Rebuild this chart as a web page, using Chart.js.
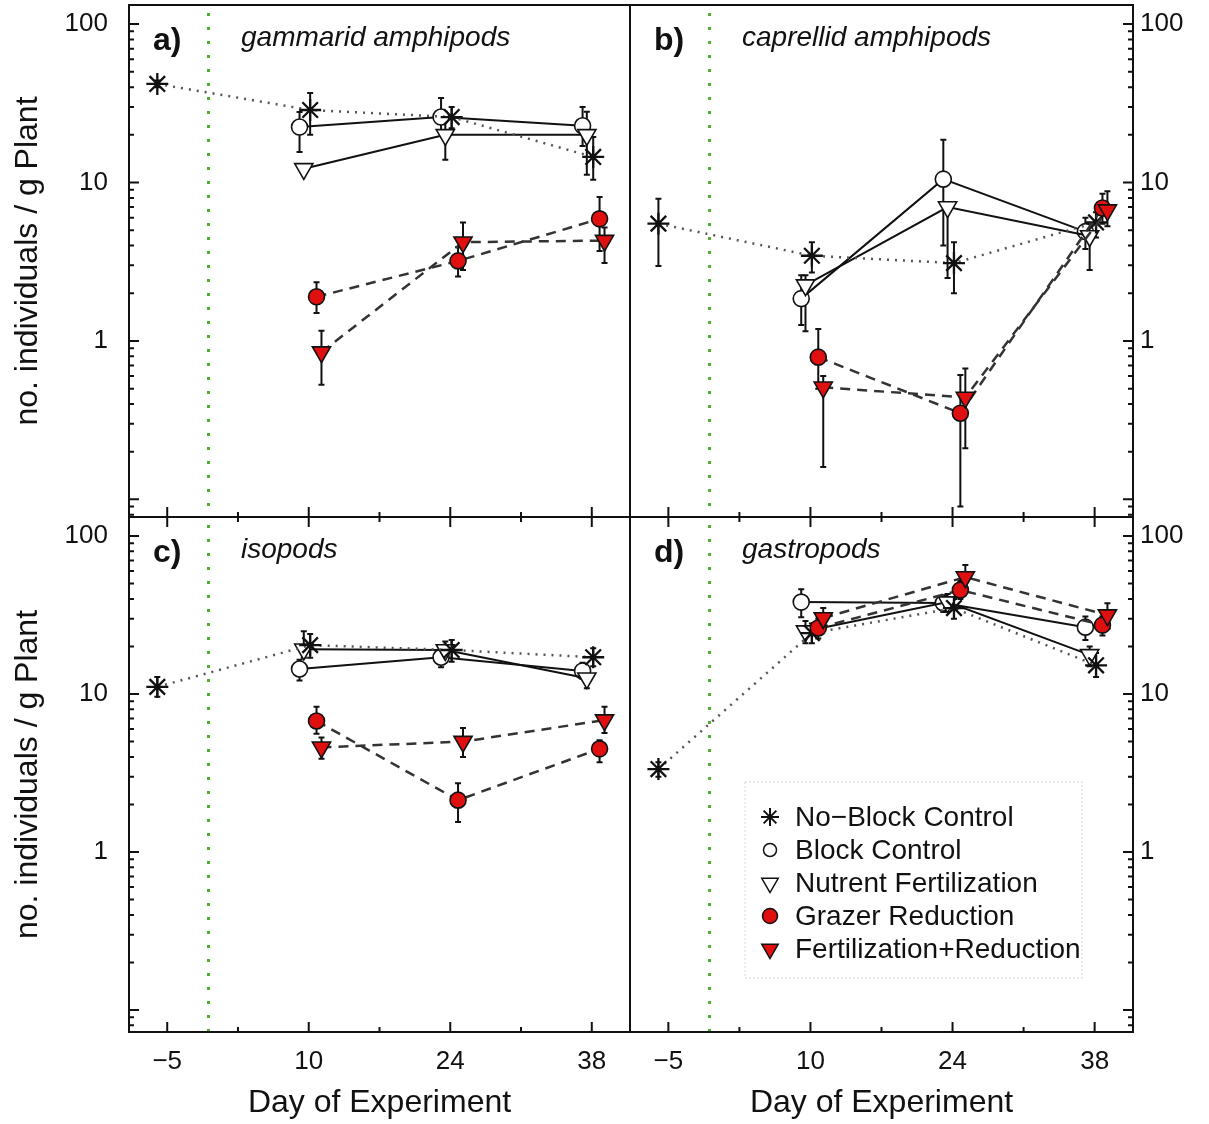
<!DOCTYPE html>
<html>
<head>
<meta charset="utf-8">
<script src="https://cdn.jsdelivr.net/npm/chart.js@4.4.1/dist/chart.umd.min.js"></script>
<style>
  html, body { margin: 0; padding: 0; background: #fff; }
  #wrap { position: relative; width: 1209px; height: 1124px; overflow: hidden; }
  #wrap canvas { position: absolute; }
</style>
</head>
<body>
<div id="wrap">
  <canvas id="panelA" width="632" height="518" style="left:0px;top:0px"></canvas>
  <canvas id="panelB" width="581" height="518" style="left:628px;top:0px"></canvas>
  <canvas id="panelC" width="632" height="609" style="left:0px;top:515px"></canvas>
  <canvas id="panelD" width="581" height="609" style="left:628px;top:515px"></canvas>
</div>
<script>
// x slots: sampling days
const dayLabels = ['\u22125', '10', '24', '38'];
const seriesNames = ['No\u2212Block Control', 'Block Control', 'Nutrent Fertilization', 'Grazer Reduction', 'Fertilization+Reduction'];
// small sideways dodge so symbols don't sit on each other (in day-slot units)
const seriesShift = [0.01, -0.065, -0.035, 0.055, 0.09];
const preSampleShift = -0.07;   // the day -5 sample sits a bit left of its tick
// start of experiment (green dotted line), in day-slot units
const startLine = 0.285;

// rows follow seriesNames, columns follow dayLabels; null = not sampled
// a) gammarid amphipods
const gammaridMean = [
    [41.9, 28.7, 25.9, 14.5],
    [null, 22.4, 25.9, 22.8],
    [null, 12.2, 20.0, 20.0],
    [null, 1.9, 3.2, 5.9],
    [null, 0.85, 4.2, 4.3]
];
const gammaridLow = [
    [40, 20, 22, 10.4],
    [null, 15.6, 21, 17],
    [null, 11.5, 13.9, 11.2],
    [null, 1.5, 2.55, 3.7],
    [null, 0.53, 2.8, 3.1]
];
const gammaridHigh = [
    [44, 36.8, 30, 19.4],
    [null, 27.9, 34.2, 30],
    [null, 13, 25.9, 28],
    [null, 2.35, 3.9, 8.1],
    [null, 1.16, 5.6, 5.2]
];

// b) caprellid amphipods
const caprellidMean = [
    [5.5, 3.45, 3.1, 5.6],
    [null, 1.85, 10.5, 4.9],
    [null, 2.25, 7.0, 4.6],
    [null, 0.79, 0.35, 6.9],
    [null, 0.51, 0.44, 6.7]
];
const caprellidLow = [
    [2.97, 2.7, 2.0, 4.5],
    [null, 1.26, 4.0, 3.8],
    [null, 1.15, 2.5, 2.8],
    [null, 0.5, 0.09, 5.5],
    [null, 0.16, 0.21, 5.3]
];
const caprellidHigh = [
    [7.9, 4.2, 4.2, 6.5],
    [null, 2.6, 18.6, 6.0],
    [null, 2.6, 7.3, 5.5],
    [null, 1.19, 0.61, 8.5],
    [null, 0.6, 0.67, 8.8]
];

// c) isopods
const isopodMean = [
    [11.1, 20.4, 19.0, 17.1],
    [null, 14.4, 17.1, 14.0],
    [null, 19.2, 19.0, 12.6],
    [null, 6.75, 2.13, 4.5],
    [null, 4.6, 5.0, 6.84]
];
const isopodLow = [
    [9.6, 17, 16, 15],
    [null, 12.2, 14.8, 12.5],
    [null, 17, 16.5, 10.9],
    [null, 5.6, 1.55, 3.7],
    [null, 3.9, 4.0, 5.66]
];
const isopodHigh = [
    [12.8, 24, 22, 19.5],
    [null, 16.5, 20, 15.8],
    [null, 25, 21.5, 14.5],
    [null, 8.3, 2.73, 5.1],
    [null, 5.3, 6.1, 8.3]
];

// d) gastropods
const gastropodMean = [
    [3.35, 24.3, 35, 15.2],
    [null, 38.2, 37.7, 26.5],
    [null, 25.0, 38.2, 17.7],
    [null, 26.2, 45.5, 27.3],
    [null, 30.3, 55, 31.6]
];
const gastropodLow = [
    [3.0, 21, 30, 12.8],
    [null, 30.6, 33, 22],
    [null, 21, 33, 15],
    [null, 22.5, 40, 23.5],
    [null, 26, 47, 26]
];
const gastropodHigh = [
    [3.7, 28, 40, 18.2],
    [null, 46, 42, 31],
    [null, 29, 43, 20],
    [null, 30, 52, 31],
    [null, 35, 65.5, 37.6]
];

const RED = '#e01010';
const seriesStyle = [
    { pointStyle: 'star', radius: 11, fill: '#000', line: '#555', width: 2.5, dash: [2, 6], rot: 0, order: 3 },
    { pointStyle: 'circle', radius: 8, fill: '#fff', line: '#111', width: 2, dash: [], rot: 0, order: 5 },
    { pointStyle: 'triangle', radius: 10.5, fill: '#fff', line: '#111', width: 2, dash: [], rot: 180, order: 4 },
    { pointStyle: 'circle', radius: 8, fill: RED, line: '#333', width: 2.5, dash: [10, 7], rot: 0, order: 2 },
    { pointStyle: 'triangle', radius: 10.5, fill: RED, line: '#333', width: 2.5, dash: [10, 7], rot: 180, order: 1 }
];

const FONT = "'Liberation Sans', Arial, Helvetica, sans-serif";
Chart.defaults.font.family = FONT;
Chart.defaults.color = '#111';

// kill the automatic label overhang padding so the plot boxes line up exactly
function noPad(s) {
    s.paddingTop = 0; s.paddingBottom = 0; s.paddingLeft = 0; s.paddingRight = 0;
}

// frame, inward ticks, start line, error bars, panel labels, legend
const panelDecor = {
    id: 'panelDecor',
    beforeDatasetsDraw(chart, args, opts) {
        const { ctx, chartArea: a, scales: { x, y } } = chart;
        ctx.save();
        ctx.strokeStyle = '#4fae2c';
        ctx.lineWidth = 3;
        ctx.setLineDash([3, 11]);
        const gx = Math.round(x.getPixelForValue(startLine)) + 0.5;
        ctx.beginPath();
        ctx.moveTo(gx, a.top + 8);
        ctx.lineTo(gx, a.bottom);
        ctx.stroke();
        ctx.restore();

        ctx.save();
        ctx.strokeStyle = '#111';
        ctx.lineWidth = 2;
        chart.data.datasets.forEach(ds => {
            ds.data.forEach(p => {
                if (p.lo == null || p.hi == null) return;
                const px = x.getPixelForValue(p.x);
                const y1 = y.getPixelForValue(p.lo);
                const y2 = y.getPixelForValue(p.hi);
                ctx.beginPath();
                ctx.moveTo(px, y1); ctx.lineTo(px, y2);
                ctx.moveTo(px - 3, y1); ctx.lineTo(px + 3, y1);
                ctx.moveTo(px - 3, y2); ctx.lineTo(px + 3, y2);
                ctx.stroke();
            });
        });
        ctx.restore();
    },
    afterDraw(chart, args, opts) {
        const { ctx, chartArea: a, scales: { x, y } } = chart;
        ctx.save();
        ctx.strokeStyle = '#111';
        ctx.lineWidth = 2;
        ctx.strokeRect(a.left, a.top, a.right - a.left, a.bottom - a.top);

        // y ticks on the outer side
        const yx = opts.side === 'left' ? a.left : a.right;
        const dir = opts.side === 'left' ? 1 : -1;
        ctx.beginPath();
        for (let k = -2; k <= 2; k++) {
            for (let m = 1; m <= 9; m++) {
                const v = m * Math.pow(10, k);
                if (v < y.min || v > y.max) continue;
                const py = y.getPixelForValue(v);
                const len = m === 1 ? 10 : 5;
                ctx.moveTo(yx, py);
                ctx.lineTo(yx + dir * len, py);
            }
        }
        // x ticks: bottom always, top for lower panels
        for (let i = -0.5; i <= 3.5; i += 0.5) {
            if (i < x.min || i > x.max) continue;
            const px = x.getPixelForValue(i);
            const len = Number.isInteger(i) ? 10 : 5;
            ctx.moveTo(px, a.bottom);
            ctx.lineTo(px, a.bottom - len);
            if (opts.topTicks) {
                ctx.moveTo(px, a.top);
                ctx.lineTo(px, a.top + len);
            }
        }
        ctx.stroke();

        // panel letter + taxon
        ctx.fillStyle = '#111';
        ctx.textBaseline = 'alphabetic';
        ctx.font = "bold 32px " + FONT;
        ctx.fillText(opts.letter, a.left + 24, a.top + 45);
        ctx.font = "italic 28px " + FONT;
        ctx.fillText(opts.taxon, a.left + 112, a.top + 41);

        if (opts.legend) {
            const bx = a.left + 115, by = a.top + 265;
            ctx.strokeStyle = '#d6d6d6';
            ctx.lineWidth = 1;
            ctx.setLineDash([2, 2]);
            ctx.strokeRect(bx, by, 337, 196);
            ctx.setLineDash([]);
            const legendSize = [9, 6.5, 9.5, 7.5, 9.5];
            seriesNames.forEach((name, k) => {
                const st = seriesStyle[k];
                const cy = by + 35 + k * 33;
                ctx.fillStyle = st.fill;
                ctx.strokeStyle = '#111';
                ctx.lineWidth = k === 0 ? 2 : 1.5;
                Chart.helpers.drawPoint(ctx, {
                    pointStyle: st.pointStyle, rotation: st.rot,
                    radius: legendSize[k], borderWidth: ctx.lineWidth
                }, bx + 25, cy);
                ctx.fillStyle = '#111';
                ctx.font = "28px " + FONT;
                ctx.textBaseline = 'middle';
                ctx.fillText(name, bx + 50, cy + 1);
            });
        }
        ctx.restore();
    }
};

function buildDatasets(mean, low, high) {
    return seriesNames.map((name, s) => {
        const st = seriesStyle[s];
        const pts = [];
        dayLabels.forEach((d, i) => {
            if (mean[s][i] == null) return;
            const shift = i === 0 ? preSampleShift : seriesShift[s];
            pts.push({ x: i + shift, y: mean[s][i], lo: low[s][i], hi: high[s][i] });
        });
        return {
            label: name,
            data: pts,
            order: st.order,
            borderColor: st.line,
            borderWidth: st.width,
            borderDash: st.dash,
            tension: 0,
            fill: false,
            pointStyle: st.pointStyle,
            pointRadius: st.radius,
            pointHoverRadius: st.radius,
            pointRotation: st.rot,
            pointBackgroundColor: st.fill,
            pointBorderColor: '#111',
            pointBorderWidth: s === 0 ? 2.3 : 1.6,
            clip: false
        };
    });
}

function makePanel(id, mean, low, high, cfg) {
    const left = cfg.side === 'left';
    new Chart(document.getElementById(id), {
        type: 'line',
        data: { datasets: buildDatasets(mean, low, high) },
        options: {
            responsive: false,
            animation: false,
            devicePixelRatio: 1,
            layout: { padding: cfg.padding, autoPadding: false },
            plugins: {
                legend: { display: false },
                tooltip: { enabled: false },
                panelDecor: cfg
            },
            scales: {
                x: {
                    type: 'linear',
                    min: -0.27,
                    max: 3.27,
                    display: cfg.showX,
                    grid: { display: false, drawTicks: false },
                    border: { display: false },
                    afterBuildTicks: s => { s.ticks = dayLabels.map((d, i) => ({ value: i })); },
                    afterFit: s => { noPad(s); if (cfg.showX) s.height = 92; },
                    ticks: {
                        padding: 14, autoSkip: false, maxRotation: 0,
                        font: { size: 26 }, color: '#111',
                        callback: v => dayLabels[v]
                    },
                    title: {
                        display: true, text: 'Day of Experiment',
                        font: { size: 32 }, color: '#111', padding: { top: 0, bottom: 2 }
                    }
                },
                y: {
                    type: 'logarithmic',
                    position: cfg.side,
                    min: cfg.yMin,
                    max: 132,
                    grid: { display: false, drawTicks: false },
                    border: { display: false },
                    afterBuildTicks: s => { s.ticks = [1, 10, 100].map(v => ({ value: v })); },
                    afterFit: s => { noPad(s); s.width = left ? 129 : 76; },
                    ticks: {
                        padding: left ? 21 : 7,
                        font: { size: 26 }, color: '#111',
                        callback: v => String(v)
                    },
                    title: {
                        display: left, text: 'no. individuals / g Plant',
                        font: { size: 32 }, color: '#111', padding: { top: 9, bottom: 0 }
                    }
                }
            }
        },
        plugins: [panelDecor]
    });
}

makePanel('panelA', gammaridMean, gammaridLow, gammaridHigh, {
    side: 'left', showX: false, topTicks: false, yMin: 0.0774,
    padding: { top: 5, bottom: 1, right: 2, left: 0 },
    letter: 'a)', taxon: 'gammarid amphipods'
});
makePanel('panelB', caprellidMean, caprellidLow, caprellidHigh, {
    side: 'right', showX: false, topTicks: false, yMin: 0.0774,
    padding: { top: 5, bottom: 1, right: 0, left: 2 },
    letter: 'b)', taxon: 'caprellid amphipods'
});
makePanel('panelC', isopodMean, isopodLow, isopodHigh, {
    side: 'left', showX: true, topTicks: true, yMin: 0.0726,
    padding: { top: 2, bottom: 0, right: 2, left: 0 },
    letter: 'c)', taxon: 'isopods'
});
makePanel('panelD', gastropodMean, gastropodLow, gastropodHigh, {
    side: 'right', showX: true, topTicks: true, yMin: 0.0726,
    padding: { top: 2, bottom: 0, right: 0, left: 2 },
    letter: 'd)', taxon: 'gastropods', legend: true
});
</script>
</body>
</html>
